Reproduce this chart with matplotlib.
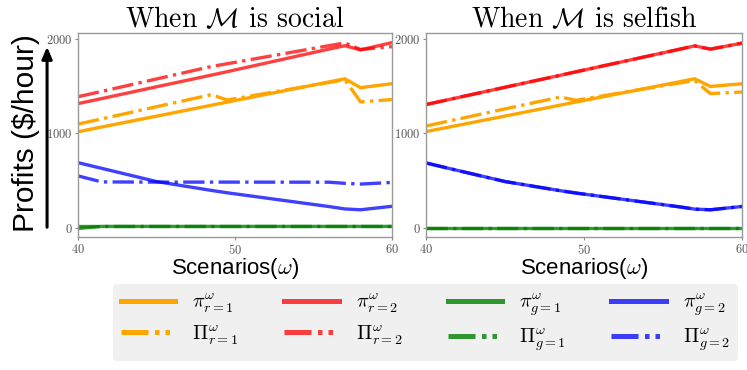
import matplotlib
matplotlib.use("Agg")
import matplotlib.pyplot as plt
from matplotlib.lines import Line2D
from matplotlib.patches import FancyArrowPatch

plt.rcParams["mathtext.fontset"] = "cm"
plt.rcParams["axes.formatter.use_mathtext"] = True

# scenario breakpoints shared by every series
scenarios = [40, 41.5, 45, 48.5, 49.5, 56, 57, 58, 60]

# M social
soc_pi_r1 = [1014, 1064, 1179, 1295, 1328, 1542, 1575, 1481, 1523]
soc_Pi_r1 = [1095, 1150, 1279, 1407, 1350, 1536, 1565, 1330, 1355]
soc_pi_r2 = [1312, 1365, 1490, 1614, 1650, 1890, 1925, 1881, 1958]
soc_Pi_r2 = [1385, 1441, 1573, 1705, 1734, 1926, 1955, 1885, 1915]
soc_pi_g1 = [-10, 12, 12, 12, 12, 12, 12, 12, 12]
soc_Pi_g1 = [18, 18, 18, 18, 18, 18, 18, 18, 18]
soc_pi_g2 = [687, 627, 487, 393, 368, 222, 197, 188, 225]
soc_Pi_g2 = [547, 483, 481, 481, 481, 480, 468, 460, 478]

# M selfish
sel_pi_r1 = [1016, 1065, 1180, 1296, 1329, 1542, 1575, 1494, 1522]
sel_Pi_r1 = [1075, 1129, 1256, 1382, 1347, 1529, 1557, 1418, 1435]
sel_pi_r2 = [1302, 1357, 1485, 1612, 1649, 1886, 1923, 1889, 1952]
sel_Pi_r2 = [1302, 1357, 1485, 1612, 1649, 1886, 1923, 1889, 1952]
sel_pi_g1 = [0, 0, 0, 0, 0, 0, 0, 0, 0]
sel_Pi_g1 = [0, 0, 0, 0, 0, 0, 0, 0, 0]
sel_pi_g2 = [684, 624, 487, 390, 365, 220, 195, 188, 223]
sel_Pi_g2 = [684, 624, 487, 390, 365, 220, 195, 188, 223]

titles = [r"When $\mathcal{M}$ is social", r"When $\mathcal{M}$ is selfish"]
labels_solid = [r"$\pi^{\omega}_{r=1}$", r"$\pi^{\omega}_{r=2}$", r"$\pi^{\omega}_{g=1}$", r"$\pi^{\omega}_{g=2}$"]
labels_dash = [r"$\Pi^{\omega}_{r=1}$", r"$\Pi^{\omega}_{r=2}$", r"$\Pi^{\omega}_{g=1}$", r"$\Pi^{\omega}_{g=2}$"]
colors = ["orange", "red", "green", "blue"]
alphas = [1.0, 0.75, 0.8, 0.75]

panels = [
    [(soc_pi_r1, soc_Pi_r1), (soc_pi_r2, soc_Pi_r2), (soc_pi_g1, soc_Pi_g1), (soc_pi_g2, soc_Pi_g2)],
    [(sel_pi_r1, sel_Pi_r1), (sel_pi_r2, sel_Pi_r2), (sel_pi_g1, sel_Pi_g1), (sel_pi_g2, sel_Pi_g2)],
]

fig = plt.figure(figsize=(7.47, 3.70), dpi=100)
ax_l = fig.add_axes([0.1044, 0.3595, 0.4203, 0.5514])
ax_r = fig.add_axes([0.5703, 0.3595, 0.4230, 0.5514])

for ax, title, series in zip([ax_l, ax_r], titles, panels):
    for (solid, dash), c, a in zip(series, colors, alphas):
        ax.plot(scenarios, solid, color=c, alpha=a, lw=2.4, ls="-")
        ax.plot(scenarios, dash, color=c, alpha=a, lw=2.4, ls="-.")
    ax.set_xlim(40, 60)
    ax.set_ylim(-100, 2060)
    ax.set_xticks([40, 50, 60])
    ax.set_yticks([0, 1000, 2000])
    for lab in ax.get_xticklabels() + ax.get_yticklabels():
        lab.set_family("cmr10")
        lab.set_fontsize(9)
        lab.set_color("#555555")
    ax.tick_params(length=2.5, width=0.8, color="#888888", pad=1.5)
    for sp in ax.spines.values():
        sp.set_color("#999999")
        sp.set_linewidth(1.0)
    ax.set_title(title, family="cmr10", fontsize=20, pad=4)
    ax.set_xlabel(r"Scenarios($\omega$)", family="Liberation Sans", fontsize=16, labelpad=-0.5)

fig.text(0.035, 1 - 133 / 370, "Profits ($/hour)", rotation=90, ha="center", va="center",
         family="Liberation Sans", fontsize=21.5)
fig.add_artist(FancyArrowPatch(
    (0.063, 1 - 230 / 370), (0.063, 1 - 44 / 370), transform=fig.transFigure,
    arrowstyle="-|>,head_length=7,head_width=3.0", color="black", lw=2.2, mutation_scale=1.0))

dashdot = (0, (5.4, 1.3, 0.9, 1.2, 0.9, 1.3))
handles, labels = [], []
for c, a, ls_lab, ld_lab in zip(colors, alphas, labels_solid, labels_dash):
    handles.append(Line2D([], [], color=c, alpha=a, lw=3.6, ls="-"))
    labels.append(ls_lab)
    handles.append(Line2D([], [], color=c, alpha=a, lw=3.6, ls=dashdot))
    labels.append(ld_lab)

leg = fig.legend(handles, labels, ncol=4, loc="center", mode="expand",
                 bbox_to_anchor=(0.151, 1 - 364 / 370, 0.837, 83 / 370), fontsize=14.5,
                 handlelength=2.7, handletextpad=0.85, frameon=True, fancybox=True,
                 facecolor="#f0f0f0", edgecolor="none", framealpha=1.0,
                 borderpad=0.4, labelspacing=0.4, borderaxespad=0)

fig.savefig("out.png", dpi=100)
